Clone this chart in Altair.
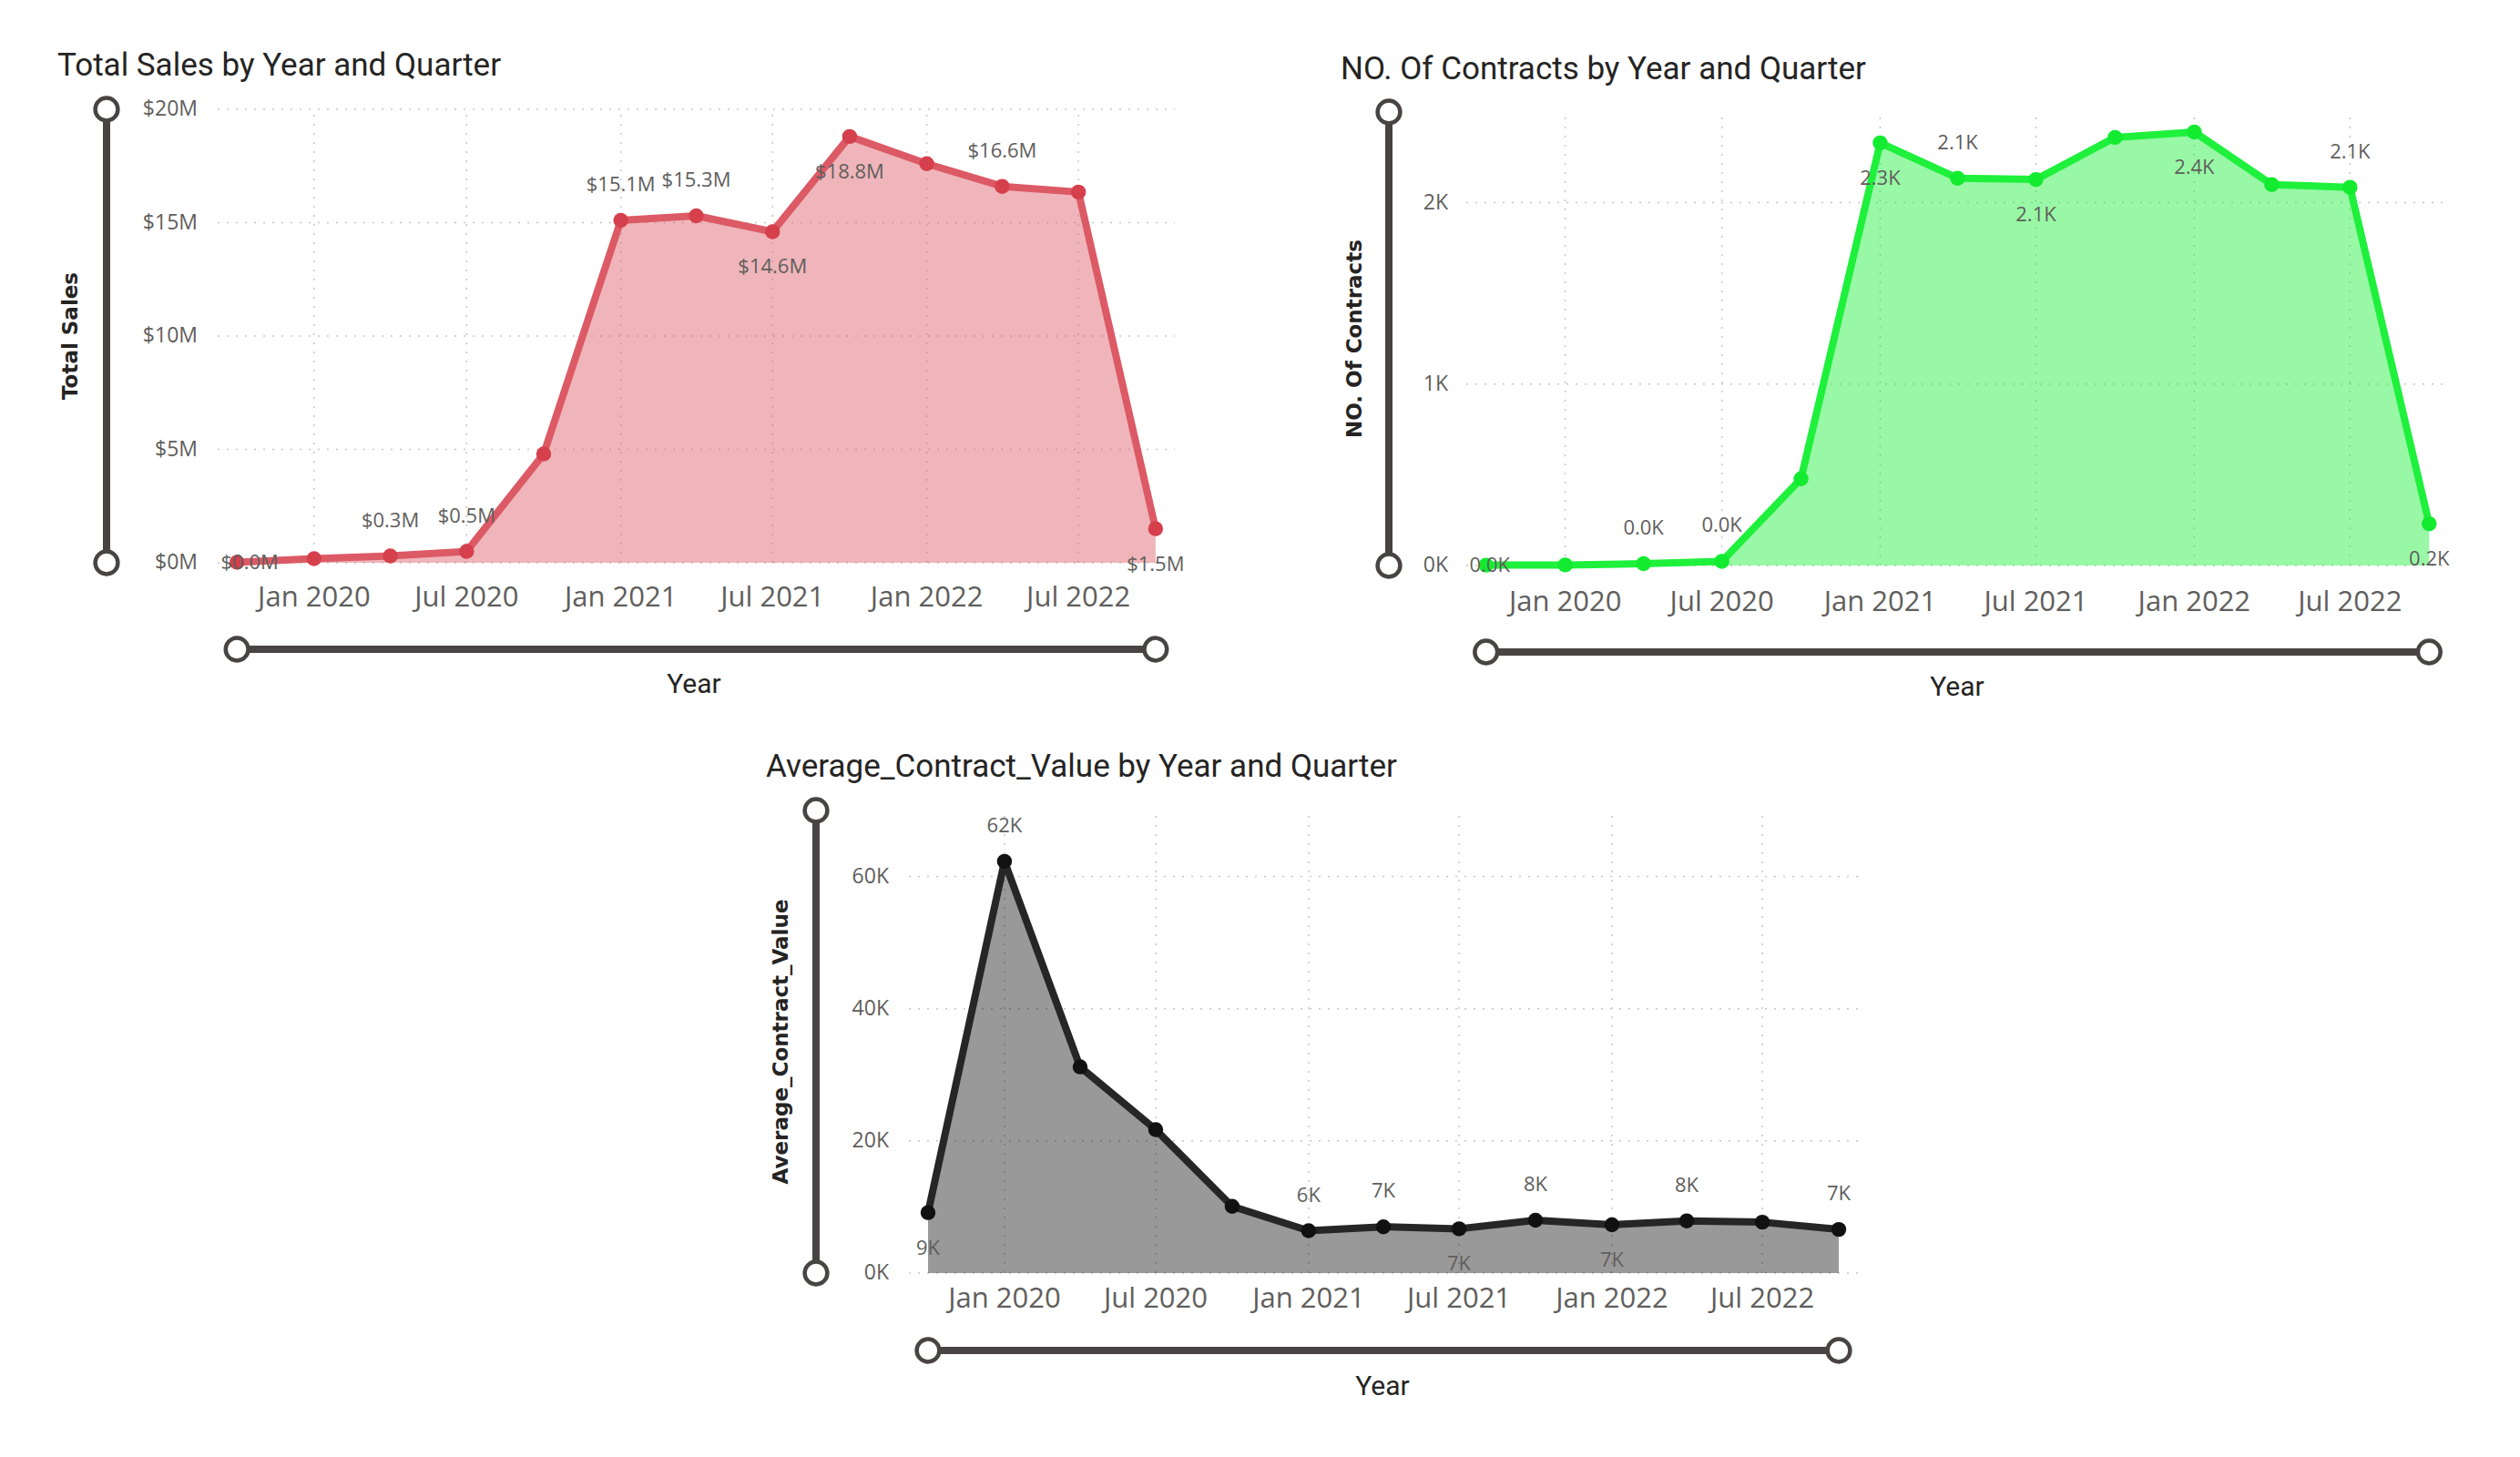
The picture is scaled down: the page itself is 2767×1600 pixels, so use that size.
import altair as alt
import pandas as pd

# ---------------- data ----------------
quarters = ["2019-10-01", "2020-01-01", "2020-04-01", "2020-07-01", "2020-10-01",
            "2021-01-01", "2021-04-01", "2021-07-01", "2021-10-01", "2022-01-01",
            "2022-04-01", "2022-07-01", "2022-10-01"]

sales_musd = [0.02, 0.18, 0.30, 0.50, 4.80, 15.10, 15.30, 14.60, 18.80, 17.60, 16.60, 16.35, 1.50]
sales_labels = ["$0.0M", "", "$0.3M", "$0.5M", "", "$15.1M", "$15.3M", "$14.6M", "$18.8M", "", "$16.6M", "", "$1.5M"]
sales_label_side = ["on", "", "above", "above", "", "above", "above", "below", "below", "", "above", "", "below"]

contracts = [2, 3, 10, 23, 478, 2330, 2135, 2128, 2360, 2390, 2100, 2085, 230]
contract_labels = ["0.0K", "", "0.0K", "0.0K", "", "2.3K", "2.1K", "2.1K", "", "2.4K", "", "2.1K", "0.2K"]
contract_label_side = ["on", "", "above", "above", "", "below", "above", "below", "", "below", "", "above", "below"]

avg_value = [9150, 62300, 31200, 21700, 10100, 6400, 7000, 6700, 8000, 7300, 7900, 7700, 6600]
avg_labels = ["9K", "62K", "", "", "", "6K", "7K", "7K", "8K", "7K", "8K", "", "7K"]
avg_label_side = ["below", "above", "", "", "", "above", "above", "below", "above", "below", "above", "", "above"]

tick_dates = ["2020-01-01", "2020-07-01", "2021-01-01", "2021-07-01", "2022-01-01", "2022-07-01"]
tick_labels = ["Jan 2020", "Jul 2020", "Jan 2021", "Jul 2021", "Jan 2022", "Jul 2022"]

sales_ticks = [0, 5, 10, 15, 20]
sales_tick_labels = ["$0M", "$5M", "$10M", "$15M", "$20M"]
contract_ticks = [0, 1000, 2000]
contract_tick_labels = ["0K", "1K", "2K"]
avg_ticks = [0, 20000, 40000, 60000]
avg_tick_labels = ["0K", "20K", "40K", "60K"]

x_domain_ends = ["2019-09-08", "2022-10-24"]

# ---------------- style ----------------
FONT_LABEL = "Open Sans"
FONT_TITLE = "Roboto"
FONT_YTITLE = "DejaVu Sans"
GRID = "#C8C6C4"
SLIDER = "#484444"
TXT = "#605E5C"
DARK = "#252423"

W, H = 2751, 1584


def V(p):
    # page pixel -> view pixel (page has an 8px margin)
    return p - 8


def dt(s):
    return alt.DateTime(year=int(s[:4]), month=int(s[5:7]), date=int(s[8:10]))


x_domain = [dt(s) for s in x_domain_ends]


def panel(values, labels, sides, ymax, yticks, ytick_labels, title, ytitle,
          line_c, pt_c, fill_c, fill_op, geo):
    xs = alt.Scale(domain=x_domain, range=[V(geo["left"]), V(geo["right"])])
    ys = alt.Scale(domain=[0, ymax], range=[V(geo["bottom"]), V(geo["top"])], nice=False, zero=False)

    def X(f):
        return alt.X(f, type="temporal", scale=xs, axis=None)

    def Y(f):
        return alt.Y(f, type="quantitative", scale=ys, axis=None)

    df = pd.DataFrame({"date": pd.to_datetime(quarters), "v": values,
                       "label": labels, "side": sides})

    # grid
    hg = pd.DataFrame({"t": yticks,
                       "x0": pd.to_datetime([x_domain_ends[0]] * len(yticks)),
                       "x1": pd.to_datetime([x_domain_ends[1]] * len(yticks))})
    hgrid = alt.Chart(hg).mark_rule(color=GRID, strokeDash=[2, 8], strokeWidth=1.5).encode(
        x=X("x0"), x2="x1", y=Y("t"))
    vg = pd.DataFrame({"d": pd.to_datetime(tick_dates), "lo": [0] * len(tick_dates),
                       "hi": [ymax] * len(tick_dates)})
    vgrid = alt.Chart(vg).mark_rule(color=GRID, strokeDash=[2, 8], strokeWidth=1.5).encode(
        x=X("d"), y=Y("lo"), y2="hi")

    # series
    base = alt.Chart(df).encode(x=X("date"), y=Y("v"))
    area = base.mark_area(color=fill_c, opacity=fill_op)
    line = base.mark_line(color=line_c, strokeWidth=8, strokeJoin="round")
    pts = base.mark_point(filled=True, color=pt_c, size=270, opacity=1)
    lab = dict(font=FONT_LABEL, fontSize=22, color=TXT, baseline="middle", align="center")
    t_above = base.transform_filter("datum.side == 'above'").mark_text(dy=-39, **lab).encode(text="label:N")
    t_below = base.transform_filter("datum.side == 'below'").mark_text(dy=39, **lab).encode(text="label:N")
    t_on = base.transform_filter("datum.side == 'on'").mark_text(dx=geo["ondx"], **lab).encode(text="label:N")

    # axis labels
    ylab = alt.Chart(pd.DataFrame({"t": yticks, "lab": ytick_labels})).mark_text(
        align="right", baseline="middle", font=FONT_LABEL, fontSize=23, color=TXT).encode(
        x=alt.value(V(geo["ylab_right"])), y=Y("t"), text="lab:N")
    xlab = alt.Chart(pd.DataFrame({"d": pd.to_datetime(tick_dates), "lab": tick_labels})).mark_text(
        align="center", baseline="middle", font=FONT_LABEL, fontSize=31, color=TXT).encode(
        x=X("d"), y=alt.value(V(geo["xlab_y"])), text="lab:N")

    # titles
    ttl = alt.Chart(pd.DataFrame({"t": [title]})).mark_text(
        align="left", baseline="alphabetic", font=FONT_TITLE, fontSize=35, color=DARK).encode(
        x=alt.value(V(geo["title_x"])), y=alt.value(V(geo["title_y"])), text="t:N")
    yttl = alt.Chart(pd.DataFrame({"t": [ytitle]})).mark_text(
        align="center", baseline="middle", angle=270, font=FONT_YTITLE, fontSize=23,
        fontWeight="bold", color=DARK).encode(
        x=alt.value(V(geo["ytitle_x"])), y=alt.value(V((geo["top"] + geo["bottom"]) / 2)), text="t:N")
    xttl = alt.Chart(pd.DataFrame({"t": ["Year"]})).mark_text(
        align="center", baseline="middle", font=FONT_TITLE, fontSize=30, color=DARK).encode(
        x=alt.value(V(geo["xtitle_x"])), y=alt.value(V(geo["xtitle_y"])), text="t:N")

    # zoom sliders (Power BI style)
    knob = dict(shape="circle", filled=True, fill="white", stroke=SLIDER,
                strokeWidth=4.5, size=616, opacity=1)
    yends = pd.DataFrame({"lo": [0], "hi": [ymax]})
    yknob = pd.DataFrame({"k": [0, ymax]})
    xends = pd.DataFrame({"a": pd.to_datetime([quarters[0]]), "b": pd.to_datetime([quarters[-1]])})
    xknob = pd.DataFrame({"k": pd.to_datetime([quarters[0], quarters[-1]])})
    vrule = alt.Chart(yends).mark_rule(color=SLIDER, strokeWidth=8).encode(
        x=alt.value(V(geo["sx"])), y=Y("lo"), y2="hi")
    vknobs = alt.Chart(yknob).mark_point(**knob).encode(x=alt.value(V(geo["sx"])), y=Y("k"))
    hrule = alt.Chart(xends).mark_rule(color=SLIDER, strokeWidth=8).encode(
        x=X("a"), x2="b", y=alt.value(V(geo["sy"])))
    hknobs = alt.Chart(xknob).mark_point(**knob).encode(x=X("k"), y=alt.value(V(geo["sy"])))

    return alt.layer(hgrid, vgrid, area, line, pts, t_above, t_below, t_on,
                     ylab, xlab, ttl, yttl, xttl, vrule, vknobs, hrule, hknobs)


p1 = panel(sales_musd, sales_labels, sales_label_side, 20, sales_ticks, sales_tick_labels,
           "Total Sales by Year and Quarter", "Total Sales",
           "#DC5A65", "#D5404C", "#DC5A65", 0.45,
           dict(left=239, right=1290, top=120, bottom=618, title_x=63, title_y=83,
                ylab_right=217, ytitle_x=78, sx=117, xlab_y=657, sy=713,
                xtitle_x=762, xtitle_y=752, ondx=14))
p2 = panel(contracts, contract_labels, contract_label_side, 2500, contract_ticks, contract_tick_labels,
           "NO. Of Contracts by Year and Quarter", "NO. Of Contracts",
           "#1EF03C", "#12EB30", "#1EF03C", 0.46,
           dict(left=1610, right=2689, top=123, bottom=621, title_x=1472, title_y=87,
                ylab_right=1590, ytitle_x=1488, sx=1525, xlab_y=662, sy=716,
                xtitle_x=2149, xtitle_y=755, ondx=4))
p3 = panel(avg_value, avg_labels, avg_label_side, 70000, avg_ticks, avg_tick_labels,
           "Average_Contract_Value by Year and Quarter", "Average_Contract_Value",
           "#262626", "#111111", "#000000", 0.40,
           dict(left=998, right=2040, top=890, bottom=1398, title_x=841, title_y=853,
                ylab_right=976, ytitle_x=858, sx=896, xlab_y=1427, sy=1483,
                xtitle_x=1518, xtitle_y=1523, ondx=10))

chart = alt.layer(p1, p2, p3).resolve_scale(
    x="independent", y="independent"
).properties(
    width=W, height=H,
    autosize=alt.AutoSizeParams(type="none"),
    padding=0,
    background="white",
).configure_view(stroke=None)

chart.save("out.html", embed_options={"renderer": "svg", "actions": False})
